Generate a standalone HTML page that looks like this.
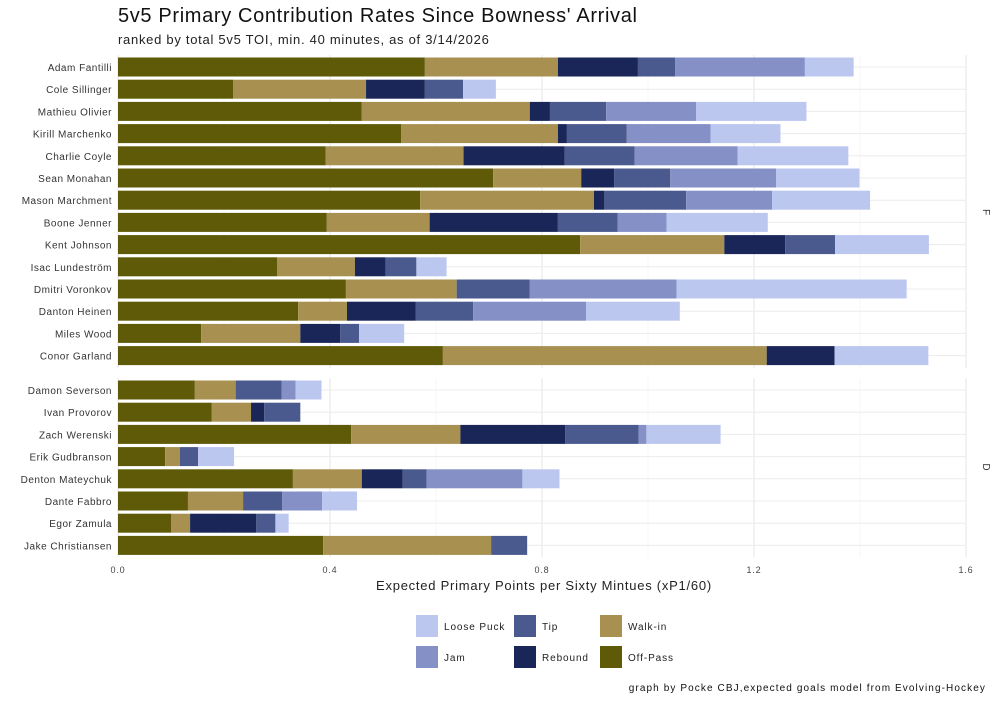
<!DOCTYPE html>
<html><head><meta charset="utf-8"><style>
body{margin:0;background:#fff;font-family:"Liberation Sans",sans-serif;}
svg text{font-family:"Liberation Sans",sans-serif;}
</style></head><body>
<svg id="chart" width="1000" height="700" xmlns="http://www.w3.org/2000/svg">
<text x="118" y="22" font-size="20" letter-spacing="0.65" fill="#111">5v5 Primary Contribution Rates Since Bowness' Arrival</text>
<text x="118" y="44" font-size="13" letter-spacing="0.72" fill="#222">ranked by total 5v5 TOI, min. 40 minutes, as of 3/14/2026</text>
<g id="grid"></g><g id="bars"></g><g id="labels"></g>
<text x="544" y="590" font-size="13" letter-spacing="0.75" text-anchor="middle" fill="#222">Expected Primary Points per Sixty Mintues (xP1/60)</text>
<text x="983" y="212" font-size="10" fill="#333" transform="rotate(90 983 212)" text-anchor="middle">F</text>
<text x="983" y="467" font-size="10" fill="#333" transform="rotate(90 983 467)" text-anchor="middle">D</text>
<g id="legend"></g>
<text x="986" y="691" font-size="10" letter-spacing="1.1" text-anchor="end" fill="#111">graph by Pocke CBJ,expected goals model from Evolving-Hockey</text>
</svg>
<script>
const forwards=["Adam Fantilli","Cole Sillinger","Mathieu Olivier","Kirill Marchenko","Charlie Coyle","Sean Monahan","Mason Marchment","Boone Jenner","Kent Johnson","Isac Lundeström","Dmitri Voronkov","Danton Heinen","Miles Wood","Conor Garland"];
const defense=["Damon Severson","Ivan Provorov","Zach Werenski","Erik Gudbranson","Denton Mateychuk","Dante Fabbro","Egor Zamula","Jake Christiansen"];
const seriesNames=["Off-Pass","Walk-in","Rebound","Tip","Jam","Loose Puck"];
const offPassF=[.579,.217,.460,.534,.392,.708,.570,.394,.872,.300,.430,.340,.157,.613];
const walkInF=[.251,.251,.317,.296,.260,.166,.328,.194,.272,.147,.209,.092,.187,.611];
const reboundF=[.151,.111,.038,.017,.191,.062,.019,.242,.115,.058,0,.130,.075,.128];
const tipF=[.070,.072,.106,.113,.132,.106,.155,.113,.094,.058,.138,.108,.036,0];
const jamF=[.245,0,.170,.158,.194,.200,.162,.092,0,0,.277,.213,0,0];
const looseF=[.092,.062,.208,.132,.209,.157,.185,.191,.177,.057,.434,.177,.085,.177];
const offPassD=[.145,.177,.440,.089,.330,.132,.100,.387];
const walkInD=[.077,.074,.206,.028,.130,.104,.036,.317];
const reboundD=[0,.025,.198,0,.077,0,.125,0];
const tipD=[.087,.068,.138,.034,.045,.074,.036,.068];
const jamD=[.026,0,.015,0,.181,.075,0,0];
const looseD=[.049,0,.140,.068,.070,.066,.025,0];
const xTicks=[0,0.4,0.8,1.2,1.6];
const xTickLabels=["0.0","0.4","0.8","1.2","1.6"];
const colors=["#5f5a08","#a89050","#1a2657","#4a5a8e","#8590c6","#bcc7f0"];
const NS="http://www.w3.org/2000/svg";
const x=v=>118+v*530;
function el(t,a,p){const e=document.createElementNS(NS,t);for(const k in a)e.setAttribute(k,a[k]);document.getElementById(p).appendChild(e);return e;}
const panels=[{names:forwards,s:[offPassF,walkInF,reboundF,tipF,jamF,looseF],y0:67,top:55,bot:368},
{names:defense,s:[offPassD,walkInD,reboundD,tipD,jamD,looseD],y0:390,top:378,bot:557}];
const step=22.2;
panels.forEach(p=>{
 for(let v=0;v<=1.6001;v+=0.2){const g=el("line",{x1:x(v),x2:x(v),y1:p.top,y2:p.bot,stroke:Math.round(v*10)%4==0?"#e6e6e6":"#f2f2f2","stroke-width":Math.round(v*10)%4==0?1:0.6},"grid");
 
 }
 p.names.forEach((n,i)=>{
  const cy=p.y0+i*step;
  const gl=el("line",{x1:118,x2:966,y1:cy,y2:cy,stroke:"#ececec"},"grid");
  
  
  const t=el("text",{x:112,y:cy+4,"font-size":10,"letter-spacing":0.5,"text-anchor":"end",fill:"#333"},"labels");t.textContent=n;
  
  
  let c=0;
  p.s.forEach((arr,k)=>{const v=arr[i];if(v>0){
   const r=el("rect",{x:x(c),y:cy-9.5,width:x(c+v)-x(c),height:19,fill:colors[k]},"bars");
   
   
   c+=v;}});
 });
});
xTicks.forEach((v,i)=>{const t=el("text",{x:x(v),y:573,"font-size":9,"letter-spacing":0.8,"text-anchor":"middle",fill:"#444"},"labels");t.textContent=xTickLabels[i];

});
const legendOrder=[[5,416,626],[3,514,626],[1,600,626],[4,416,657],[2,514,657],[0,600,657]];
legendOrder.forEach(([k,lx,ly])=>{
 const r=el("rect",{x:lx,y:ly-11,width:22,height:22,fill:colors[k]},"legend");
 
 
 const t=el("text",{x:lx+28,y:ly+4,"font-size":10,"letter-spacing":0.9,fill:"#222"},"legend");t.textContent=seriesNames[k];
 
 
});
</script>
</body></html>
